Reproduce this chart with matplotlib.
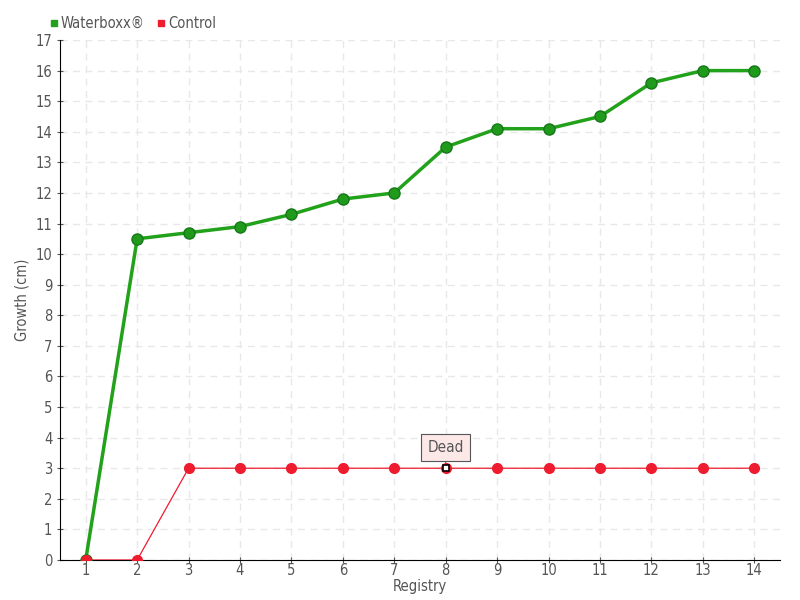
import matplotlib
matplotlib.use("Agg")
import matplotlib.pyplot as plt

# data
registry = [1, 2, 3, 4, 5, 6, 7, 8, 9, 10, 11, 12, 13, 14]
waterboxx = [0, 10.5, 10.7, 10.9, 11.3, 11.8, 12.0, 13.5, 14.1, 14.1, 14.5, 15.6, 16.0, 16.0]
control = [0, 0, 3, 3, 3, 3, 3, 3, 3, 3, 3, 3, 3, 3]
dead_index = 7
yticks = list(range(0, 18))

plt.rcParams["font.family"] = ["DejaVu Sans"]
plt.rcParams["font.stretch"] = "condensed"

text_col = "#555555"
green = "#22a11a"
red = "#ee1c2e"

fig = plt.figure(figsize=(8, 6), dpi=100)
ax = fig.add_axes([0.075, 0.0667, 0.9, 0.8666])

ax.plot(registry, waterboxx, color=green, lw=2.5, marker="o", ms=8,
        mfc="#1f9a1a", mec="#17781a", mew=1, zorder=3, label="Waterboxx®")
ax.plot(registry, control, color=red, lw=0.9, marker="o", ms=7,
        mfc=red, mec=red, zorder=4, label="Control")
ax.plot(registry[dead_index], control[dead_index], marker="s", ms=5,
        mfc="white", mec="black", mew=1.2, zorder=5)

ax.annotate("Dead", xy=(registry[dead_index], control[dead_index]),
            xytext=(0, 15), textcoords="offset points", ha="center", va="center",
            fontsize=11, color=text_col,
            bbox=dict(boxstyle="square,pad=0.4", fc="#fde8e8", ec="#555555", lw=0.8),
            arrowprops=dict(arrowstyle="-", color="#555555", lw=0.8,
                            shrinkA=0, shrinkB=3))

ax.set_xlim(0.5, 14.5)
ax.set_ylim(0, 17)
ax.set_xticks(registry)
ax.set_yticks(yticks)
ax.tick_params(colors=text_col, labelsize=10.5, length=4, direction="inout")
ax.tick_params(axis="x", pad=0)
ax.grid(True, color="#e8e8e8", ls=(0, (5, 4)), lw=1)
ax.set_axisbelow(True)
for s in ["top", "right"]:
    ax.spines[s].set_visible(False)
ax.spines["left"].set_color("black")
ax.spines["bottom"].set_color("black")

ax.set_xlabel("Registry", color=text_col, fontsize=10.5, labelpad=1)
ax.set_ylabel("Growth (cm)", color=text_col, fontsize=10.5, labelpad=4)

leg = fig.legend(loc="upper left", bbox_to_anchor=(0.045, 0.995), ncol=2, frameon=False,
                 fontsize=10.5, handlelength=0.6, handletextpad=0.2, columnspacing=0.8,
                 labelcolor=text_col)
for h, c in zip(leg.legend_handles, [green, red]):
    h.set_linestyle("none")
    h.set_marker("s")
    h.set_markersize(5)
    h.set_markerfacecolor(c)
    h.set_markeredgecolor(c)

fig.savefig("out.png", dpi=100)
